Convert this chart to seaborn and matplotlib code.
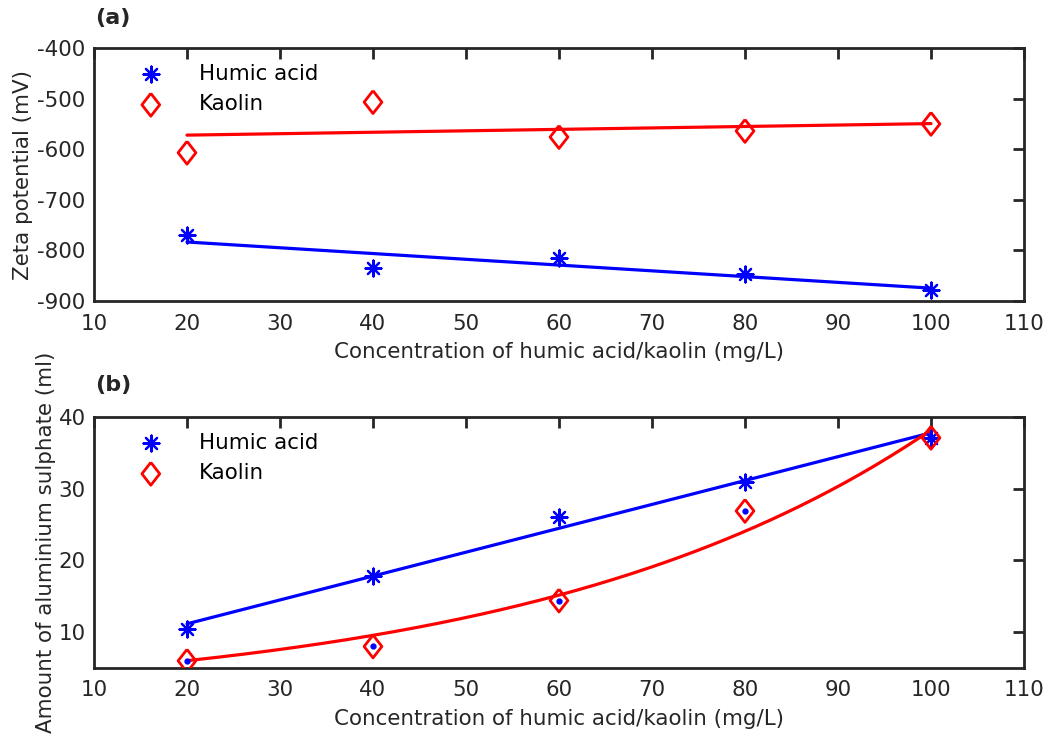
import numpy as np
import pandas as pd
import matplotlib
matplotlib.use("Agg")
import matplotlib.pyplot as plt
import seaborn as sns

# ---- data ----
conc = [20, 40, 60, 80, 100]
zeta_humic = [-770, -835, -815, -847, -878]
zeta_kaolin = [-607, -507, -576, -564, -550]
alum_humic = [10.4, 17.8, 26.1, 31.0, 37.1]
alum_kaolin = [6.0, 8.0, 14.4, 26.9, 37.1]
xticks = [10, 20, 30, 40, 50, 60, 70, 80, 90, 100, 110]
yticks_a = [-900, -800, -700, -600, -500, -400]
yticks_b = [10, 20, 30, 40]

sns.set_theme(style="white")
plt.rcParams['font.family'] = ['DejaVu Sans']
plt.rcParams['axes.unicode_minus'] = False
plt.rcParams['xtick.direction'] = 'in'
plt.rcParams['ytick.direction'] = 'in'

dark = "#262626"
BLUE = (0, 0, 1)
RED = (1, 0, 0)
star = (8, 2, 0)
diamond = [(0, 1), (0.78, 0), (0, -1), (-0.78, 0), (0, 1)]
FS = 15.4

fig = plt.figure(figsize=(10.46, 7.42), dpi=100)
axa = fig.add_axes([94/1046, 1-301/742, (1024-94)/1046, (301-48)/742])
axb = fig.add_axes([94/1046, 1-668/742, (1024-94)/1046, (668-417)/742])

x = np.array(conc, dtype=float)
xs = np.linspace(20, 100, 200)

def lin(y):
    p = np.polyfit(x, np.array(y, float), 1)
    return np.polyval(p, xs)

def expfit(y):
    y = np.array(y, float)
    best = None
    for k in np.linspace(0.005, 0.06, 5501):
        e = np.exp(k * x)
        a = (y @ e) / (e @ e)
        r = np.sum((y - a * e) ** 2)
        if best is None or r < best[0]:
            best = (r, a, k)
    return best[1] * np.exp(best[2] * xs)

da = pd.DataFrame({"x": conc, "h": zeta_humic, "k": zeta_kaolin})
db = pd.DataFrame({"x": conc, "h": alum_humic, "k": alum_kaolin})

def style(ax, ylim, yt):
    ax.set_xlim(10, 110)
    ax.set_ylim(*ylim)
    ax.set_xticks(xticks)
    ax.set_yticks(yt)
    ax.tick_params(direction="in", length=8, width=2, colors=dark,
                   labelcolor=dark, labelsize=FS, top=True, right=True,
                   labeltop=False, labelright=False, pad=6)
    ax.tick_params(axis="x", pad=9)
    for s in ax.spines.values():
        s.set_color(dark)
        s.set_linewidth(2)
    ax.set_xlabel("Concentration of humic acid/kaolin (mg/L)", fontsize=FS,
                  color=dark, labelpad=6)

# panel a
sns.lineplot(x=xs, y=lin(zeta_humic), color=BLUE, lw=2.3, ax=axa)
sns.lineplot(x=xs, y=lin(zeta_kaolin), color=RED, lw=2.3, ax=axa)
sns.scatterplot(data=da, x="x", y="h", marker=star, s=130, color=BLUE,
                edgecolor=BLUE, linewidth=1.6, ax=axa, label="Humic acid", zorder=3)
sns.scatterplot(data=da, x="x", y="k", marker=diamond, s=270, facecolor="none",
                edgecolor=RED, linewidth=2, ax=axa, label="Kaolin", zorder=3)
style(axa, (-900, -400), yticks_a)
axa.set_ylabel("Zeta potential (mV)", fontsize=FS, color=dark, labelpad=3)

# panel b
sns.lineplot(x=xs, y=lin(alum_humic), color=BLUE, lw=2.3, ax=axb)
sns.lineplot(x=xs, y=expfit(alum_kaolin), color=RED, lw=2.3, ax=axb)
sns.scatterplot(data=db, x="x", y="h", marker=star, s=130, color=BLUE,
                edgecolor=BLUE, linewidth=1.6, ax=axb, label="Humic acid", zorder=3)
sns.scatterplot(data=db, x="x", y="k", marker=diamond, s=270, facecolor="none",
                edgecolor=RED, linewidth=2, ax=axb, label="Kaolin", zorder=3)
axb.plot(conc, alum_kaolin, ls="none", marker="o", ms=3.5, color=BLUE, zorder=4)
style(axb, (5, 40), yticks_b)
axb.set_ylabel("Amount of aluminium sulphate (ml)", fontsize=FS, color=dark, labelpad=2)

for ax in (axa, axb):
    leg = ax.legend(loc="upper left", frameon=False, fontsize=FS,
                    bbox_to_anchor=(0.022, 0.997), handletextpad=1.25,
                    labelspacing=0.5, borderaxespad=0.3)
    for t in leg.get_texts():
        t.set_color("black")

fig.text(95/1046, 1-18/742, "(a)", fontsize=16, fontweight="bold", va="center", ha="left")
fig.text(95/1046, 1-385/742, "(b)", fontsize=16, fontweight="bold", va="center", ha="left")

fig.savefig("out.png", dpi=100)
